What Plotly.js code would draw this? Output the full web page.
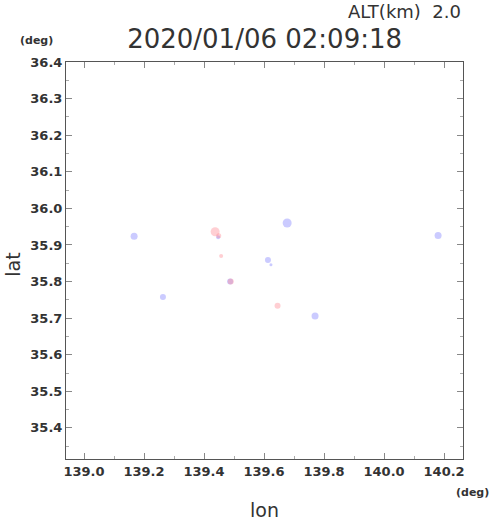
<!DOCTYPE html>
<html><head><meta charset="utf-8">
<script src="https://cdn.plot.ly/plotly-3.0.1.min.js"></script>
<style>body{margin:0;background:#fff}#c{width:490px;height:521px}</style>
</head><body><div id="c"></div>
<script>
const blueLon = [139.167, 139.263, 139.677, 139.613, 139.623, 139.77, 140.18, 139.447, 139.487];
const blueLat = [35.924, 35.758, 35.960, 35.859, 35.846, 35.706, 35.926, 35.921, 35.800];
const blueSize = [7, 6, 9, 6, 3, 7, 7, 4, 6];
const pinkLon = [139.437, 139.449, 139.457, 139.489, 139.645];
const pinkLat = [35.936, 35.925, 35.870, 35.800, 35.734];
const pinkSize = [9, 5, 4, 6, 6];
const xTicks = [139.0, 139.2, 139.4, 139.6, 139.8, 140.0, 140.2];
const yTicks = [35.4, 35.5, 35.6, 35.7, 35.8, 35.9, 36.0, 36.1, 36.2, 36.3, 36.4];
const titleText = "2020/01/06 02:09:18";
const altText = "ALT(km)&nbsp;&nbsp;2.0";

const traces = [
  {x: blueLon, y: blueLat, mode: 'markers', type: 'scatter',
   marker: {size: blueSize, color: 'rgba(120,120,255,0.55)', line: {width: 0}}},
  {x: pinkLon, y: pinkLat, mode: 'markers', type: 'scatter',
   marker: {size: pinkSize, color: 'rgba(255,130,140,0.55)', line: {width: 0}}}
];
const tickFont = {family: 'DejaVu Sans', size: 13, color: '#333', weight: 'bold'};
const layout = {
  width: 490, height: 521, showlegend: false,
  paper_bgcolor: '#fff', plot_bgcolor: '#fff',
  margin: {l: 66, r: 27, t: 62, b: 62},
  title: {text: titleText, font: {family: 'DejaVu Sans', size: 26, color: '#333'},
          x: 0.54, xanchor: 'center', y: 0.925, yanchor: 'middle'},
  xaxis: {range: [138.94, 140.263], tickvals: xTicks, ticktext: xTicks.map(v => v.toFixed(1)),
          ticks: 'inside', ticklen: 6, tickcolor: '#888', showgrid: false, zeroline: false,
          showline: true, linecolor: '#555', linewidth: 1, mirror: 'ticks',
          minor: {dtick: 0.1, tick0: 139.0, ticks: 'inside', ticklen: 3, tickcolor: '#aaa'},
          tickfont: tickFont,
          title: {text: 'lon', font: {family: 'DejaVu Sans', size: 19, color: '#333'}, standoff: 28}},
  yaxis: {range: [35.315, 36.4], tickvals: yTicks, ticktext: yTicks.map(v => v.toFixed(1)),
          ticks: 'inside', ticklen: 6, tickcolor: '#888', showgrid: false, zeroline: false,
          showline: true, linecolor: '#555', linewidth: 1, mirror: 'ticks',
          minor: {dtick: 0.05, tick0: 35.4, ticks: 'inside', ticklen: 3, tickcolor: '#aaa'},
          tickfont: tickFont},
  annotations: [
    {text: 'lat', xref: 'paper', yref: 'paper', x: -0.133, y: 0.49, xanchor: 'center', yanchor: 'middle',
     textangle: -90, showarrow: false, font: {family: 'DejaVu Sans', size: 19, color: '#333'}},
    {text: altText, xref: 'paper', yref: 'paper', x: 1.0, y: 1.128, xanchor: 'right', yanchor: 'middle',
     showarrow: false, font: {family: 'DejaVu Sans', size: 18, color: '#333'}},
    {text: '(deg)', xref: 'paper', yref: 'paper', x: -0.12, y: 1.055, xanchor: 'left', yanchor: 'middle',
     showarrow: false, font: {family: 'DejaVu Sans', size: 11, color: '#333', weight: 'bold'}},
    {text: '(deg)', xref: 'paper', yref: 'paper', x: 1.07, y: -0.085, xanchor: 'right', yanchor: 'middle',
     showarrow: false, font: {family: 'DejaVu Sans', size: 11, color: '#333', weight: 'bold'}}
  ]
};
Plotly.newPlot('c', traces, layout, {displayModeBar: false, staticPlot: true});
</script></body></html>
